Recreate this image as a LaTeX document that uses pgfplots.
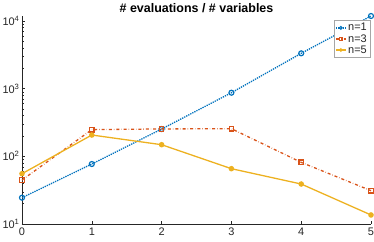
\documentclass[border=0pt]{standalone}
\usepackage{fontspec}
\setmainfont{Liberation Sans}
\usepackage{pgfplots}
\pgfplotsset{compat=1.18}
\definecolor{mblue}{rgb}{0,0.447,0.741}
\definecolor{morange}{rgb}{0.85,0.325,0.098}
\definecolor{myellow}{rgb}{0.929,0.694,0.125}
\definecolor{axgray}{rgb}{0.15,0.15,0.15}
\begin{document}
\begin{tikzpicture}
\begin{axis}[
  name=ax,
  scale only axis,
  width=349bp, height=208bp,
  ymode=log,
  xmin=0, xmax=5,
  ymin=10, ymax=11850,
  axis lines*=left,
  axis line style={axgray, line width=0.5pt},
  clip=false,
  tick align=inside,
  major tick length=3.5bp,
  minor tick length=2bp,
  tick style={axgray, line width=0.4pt},
  xtick={0,1,2,3,4,5},
  xticklabels={0,1,2,3,4,5},
  ytick={10,100,1000,10000},
  yticklabels={10\textsuperscript{1},10\textsuperscript{2},10\textsuperscript{3},10\textsuperscript{4}},
  ticklabel style={font=\fontsize{11}{12}\selectfont, text=axgray},
  xticklabel style={yshift=-0.5bp},
  yticklabel style={xshift=1bp},
  title={\textbf{\# evaluations / \# variables}},
  title style={font=\fontsize{12.5}{13}\selectfont, yshift=-6.5bp},
  legend style={at={(0.997,0.98)}, anchor=north east, draw=gray!70, line width=0.4pt,
    font=\fontsize{11}{12}\selectfont, inner sep=1pt, row sep=-2pt, text=axgray},
  legend cell align=left,
  legend image post style={scale=0.55},
]
\addplot[color=mblue, densely dotted, line width=1.3pt, mark=o, mark size=2.5pt,
  mark options={solid, draw=mblue, fill=none, line width=1.2pt}]
  coordinates {(0,24.5) (1,77) (2,253) (3,871) (4,3327) (5,11850)};
\addlegendentry{n=1}
\addplot[color=morange, dash dot, line width=1.3pt, mark=square, mark size=2.3pt,
  mark options={solid, draw=morange, fill=none, line width=1.2pt}]
  coordinates {(0,44.7) (1,248) (2,254) (3,256) (4,81.5) (5,31.1)};
\addlegendentry{n=3}
\addplot[color=myellow, solid, line width=1.3pt, mark=*, mark size=2.1pt,
  mark options={solid, draw=myellow, fill=myellow}]
  coordinates {(0,55.4) (1,206.6) (2,148.6) (3,65.7) (4,39) (5,13.6)};
\addlegendentry{n=5}
\end{axis}
\pgfresetboundingbox
\path (ax.south west) ++(-22bp,-17bp) coordinate (bl);
\path (ax.north east) ++(3bp,16bp) coordinate (tr);
\path[use as bounding box] (bl) rectangle (tr);
\end{tikzpicture}
\end{document}
